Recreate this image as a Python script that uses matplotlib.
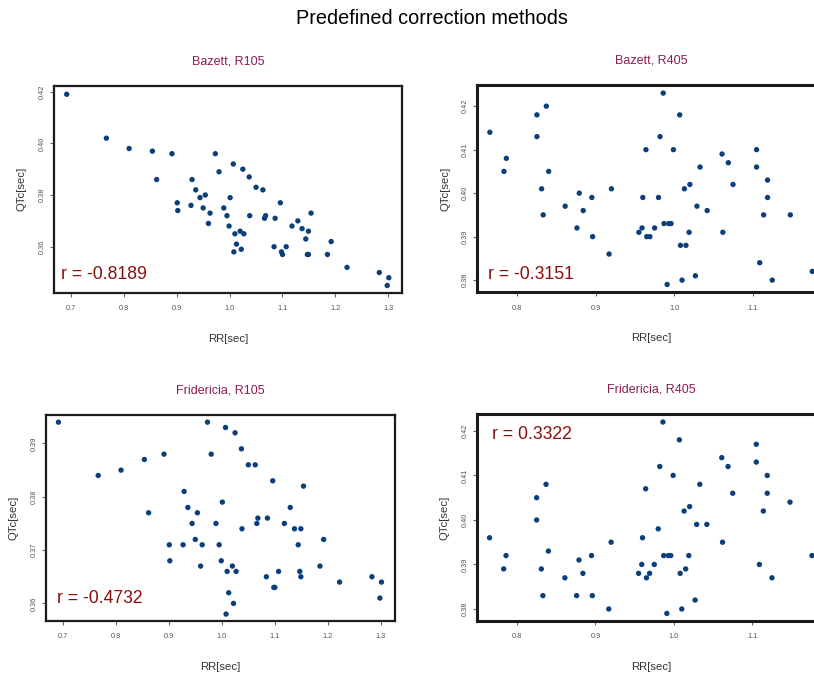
import matplotlib
matplotlib.use("Agg")
import matplotlib.pyplot as plt
from matplotlib.ticker import FixedLocator, FormatStrFormatter

plt.rcParams['font.family'] = ['Liberation Sans', 'DejaVu Sans']

# RR intervals of the two subjects
rr_105 = [0.692, 0.767, 0.810, 0.854, 0.891, 0.862, 0.973, 1.007, 1.025, 0.980,
          1.037, 0.929, 1.050, 1.063, 0.936, 0.954, 0.944, 1.001, 0.901, 1.096,
          0.927, 0.950, 0.989, 0.902, 0.963, 1.154, 0.995, 1.038, 1.068, 1.066,
          1.086, 0.960, 1.129, 0.999, 1.118, 1.137, 1.020, 1.149, 1.010, 1.027,
          1.144, 1.013, 1.107, 1.084, 1.192, 1.022, 1.008, 1.098, 1.100, 1.147,
          1.149, 1.185, 1.222, 1.283, 1.301, 1.298]
rr_405 = [0.765, 0.786, 0.783, 0.825, 0.825, 0.837, 0.840, 0.831, 0.833, 0.861,
          0.879, 0.884, 0.895, 0.876, 0.896, 0.920, 0.917, 0.955, 0.959, 0.960,
          0.964, 0.965, 0.969, 0.975, 0.980, 0.982, 0.986, 0.987, 0.993, 0.996,
          0.991, 0.999, 1.007, 1.008, 1.010, 1.013, 1.015, 1.019, 1.020, 1.027,
          1.029, 1.033, 1.042, 1.061, 1.062, 1.069, 1.075, 1.105, 1.105, 1.109,
          1.114, 1.119, 1.119, 1.125, 1.148, 1.176]

# corrected QT
qtc_baz_105 = [0.419, 0.402, 0.398, 0.397, 0.396, 0.386, 0.396, 0.392, 0.390, 0.389,
               0.387, 0.386, 0.383, 0.382, 0.382, 0.380, 0.379, 0.379, 0.377, 0.377,
               0.376, 0.375, 0.375, 0.374, 0.373, 0.373, 0.372, 0.372, 0.372, 0.371,
               0.371, 0.369, 0.370, 0.368, 0.368, 0.367, 0.366, 0.366, 0.365, 0.365,
               0.363, 0.361, 0.360, 0.360, 0.362, 0.359, 0.358, 0.358, 0.357, 0.357,
               0.357, 0.357, 0.352, 0.350, 0.348, 0.345]
qtc_baz_405 = [0.414, 0.408, 0.405, 0.418, 0.413, 0.420, 0.405, 0.401, 0.395, 0.397,
               0.400, 0.396, 0.399, 0.392, 0.390, 0.401, 0.386, 0.391, 0.392, 0.399,
               0.410, 0.390, 0.390, 0.392, 0.399, 0.413, 0.423, 0.393, 0.393, 0.393,
               0.379, 0.410, 0.418, 0.388, 0.380, 0.401, 0.388, 0.391, 0.402, 0.381,
               0.397, 0.406, 0.396, 0.409, 0.391, 0.407, 0.402, 0.410, 0.406, 0.384,
               0.395, 0.403, 0.399, 0.380, 0.395, 0.382]
qtc_fri_105 = [0.394, 0.384, 0.385, 0.387, 0.388, 0.377, 0.394, 0.393, 0.392, 0.388,
               0.389, 0.381, 0.386, 0.386, 0.378, 0.377, 0.375, 0.379, 0.371, 0.383,
               0.371, 0.372, 0.375, 0.368, 0.371, 0.382, 0.371, 0.374, 0.376, 0.375,
               0.376, 0.367, 0.378, 0.368, 0.375, 0.374, 0.367, 0.374, 0.366, 0.366,
               0.371, 0.362, 0.366, 0.365, 0.372, 0.360, 0.358, 0.363, 0.363, 0.366,
               0.365, 0.367, 0.364, 0.365, 0.364, 0.361]
qtc_fri_405 = [0.396, 0.392, 0.389, 0.405, 0.400, 0.408, 0.393, 0.389, 0.383, 0.387,
               0.391, 0.388, 0.392, 0.383, 0.383, 0.395, 0.380, 0.388, 0.390, 0.396,
               0.407, 0.387, 0.388, 0.390, 0.398, 0.412, 0.422, 0.392, 0.392, 0.392,
               0.379, 0.410, 0.418, 0.388, 0.380, 0.402, 0.389, 0.392, 0.403, 0.382,
               0.399, 0.408, 0.399, 0.414, 0.395, 0.412, 0.406, 0.417, 0.413, 0.390,
               0.402, 0.410, 0.406, 0.387, 0.404, 0.392]

titles = ["Bazett, R105", "Bazett, R405", "Fridericia, R105", "Fridericia, R405"]
r_labels = ["r = -0.8189", "r = -0.3151", "r = -0.4732", "r = 0.3322"]
xticks_105 = [0.7, 0.8, 0.9, 1.0, 1.1, 1.2, 1.3]
xticks_405 = [0.8, 0.9, 1.0, 1.1, 1.2]
yticks = [[0.36, 0.38, 0.40, 0.42],
          [0.38, 0.39, 0.40, 0.41, 0.42],
          [0.36, 0.37, 0.38, 0.39],
          [0.38, 0.39, 0.40, 0.41, 0.42]]

W, H = 814, 673
fig = plt.figure(figsize=(W / 100, H / 100), dpi=100)

# panel boxes in pixels: left, top, right, bottom
boxes = [(54, 86, 402.3, 292.7), (477.3, 85.3, 825.6, 292.3),
         (45.7, 414.7, 395, 621), (477, 414, 825.3, 621)]
xs = [rr_105, rr_405, rr_105, rr_405]
ys = [qtc_baz_105, qtc_baz_405, qtc_fri_105, qtc_fri_405]
xlims = [(0.668, 1.3265), (0.749, 1.193), (0.668, 1.3265), (0.749, 1.193)]
ylims = [(0.3422, 0.4222), (0.3772, 0.4248), (0.3567, 0.3954), (0.3773, 0.4238)]
rpos = [(0.02, 0.086), (0.031, 0.088), (0.032, 0.107), (0.042, 0.90)]
frame_lw = [1.6, 2.2, 1.6, 2.2]

for i in range(4):
    l, t, r, b = boxes[i]
    ax = fig.add_axes([l / W, 1 - b / H, (r - l) / W, (b - t) / H])
    ax.scatter(xs[i], ys[i], s=15, color='#0b3f7c', edgecolors='none', zorder=3)
    ax.set_xlim(*xlims[i])
    ax.set_ylim(*ylims[i])
    ax.xaxis.set_major_locator(FixedLocator(xticks_105 if i % 2 == 0 else xticks_405))
    ax.yaxis.set_major_locator(FixedLocator(yticks[i]))
    ax.xaxis.set_major_formatter(FormatStrFormatter('%.1f'))
    ax.yaxis.set_major_formatter(FormatStrFormatter('%.2f'))
    ax.tick_params(axis='both', length=3, width=0.8, color='#666666',
                   labelsize=5.3, labelcolor='#555555')
    ax.tick_params(axis='x', pad=6)
    ax.tick_params(axis='y', pad=3)
    for lab in ax.get_yticklabels():
        lab.set_rotation(90)
        lab.set_va('center')
    for sp in ax.spines.values():
        sp.set_linewidth(frame_lw[i])
        sp.set_color('#1a1a1a')
    wpx = r - l
    hpx = b - t
    ax.set_xlabel("RR[sec]", fontsize=8.2, color='#333333', va='center')
    ax.xaxis.set_label_coords(0.5, -46 / hpx)
    ax.set_ylabel("QTc[sec]", fontsize=8.2, color='#333333', va='center')
    ax.yaxis.set_label_coords(-32 / wpx, 0.5)
    ax.set_title(titles[i], fontsize=9, color='#8c1c52', y=1 + 24.5 / hpx,
                 va='center', pad=0)
    ax.text(rpos[i][0], rpos[i][1], r_labels[i], transform=ax.transAxes,
            fontsize=12.7, color='#8b0e0e', ha='left', va='center')

fig.text(432 / W, 1 - 18 / H, "Predefined correction methods", fontsize=14.3,
         ha='center', va='center', color='black')

fig.savefig("out.png", dpi=100)
